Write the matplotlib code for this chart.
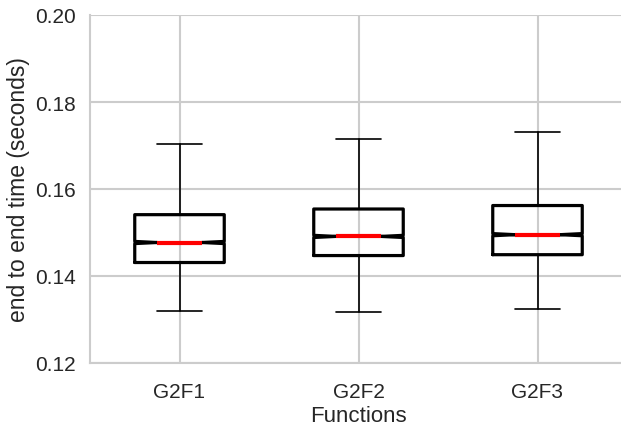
import matplotlib
matplotlib.use("Agg")
import matplotlib.pyplot as plt
import seaborn as sns

sns.set_style("whitegrid")
plt.rcParams['font.family'] = ['Liberation Sans', 'DejaVu Sans']

labels = ["G2F1", "G2F2", "G2F3"]
whislo = [0.1320, 0.1318, 0.1324]
q1 = [0.1431, 0.1447, 0.1449]
med = [0.1477, 0.1491, 0.1495]
q3 = [0.1541, 0.1554, 0.1562]
whishi = [0.1703, 0.1715, 0.1730]
ci_half = [0.00025, 0.00025, 0.00025]

stats = []
for i in range(len(labels)):
    stats.append({
        "label": labels[i],
        "whislo": whislo[i], "q1": q1[i], "med": med[i],
        "q3": q3[i], "whishi": whishi[i],
        "cilo": med[i] - ci_half[i], "cihi": med[i] + ci_half[i],
        "fliers": [],
    })

fig = plt.figure(figsize=(6.21, 4.27), dpi=100)
ax = fig.add_axes([90 / 621, 63 / 427, 537 / 621, 348 / 427])

ax.bxp(stats, shownotches=True, widths=0.5, showfliers=False,
       boxprops=dict(color="black", linewidth=2.3),
       whiskerprops=dict(color="black", linewidth=1.2),
       capprops=dict(color="black", linewidth=1.2),
       medianprops=dict(color="red", linewidth=3))

ax.set_xlim(0.5, 3.5)
ax.set_ylim(0.12, 0.20)
ax.set_yticks([0.12, 0.14, 0.16, 0.18, 0.20])
ax.set_yticklabels(["0.12", "0.14", "0.16", "0.18", "0.20"])
ax.tick_params(axis="both", labelsize=15, colors="#262626")
ax.tick_params(axis="x", pad=10)
ax.tick_params(axis="y", pad=7)
ax.set_xlabel("Functions", fontsize=16, color="#262626", labelpad=3)
ax.set_ylabel("end to end time (seconds)", fontsize=16.5, color="#262626", labelpad=3)
ax.grid(True, color="#cccccc", linewidth=1.5)
for s in ["top", "right"]:
    ax.spines[s].set_visible(False)
for s in ["left", "bottom"]:
    ax.spines[s].set_color("#cccccc")
    ax.spines[s].set_linewidth(1.5)

fig.savefig("out.png", dpi=100)
